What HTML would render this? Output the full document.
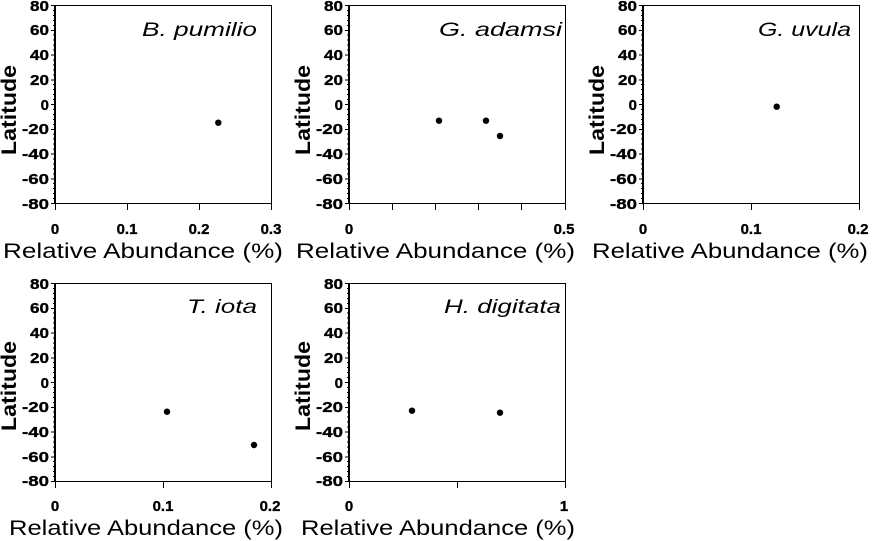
<!DOCTYPE html>
<html>
<head>
<meta charset="utf-8">
<style>
html,body{margin:0;padding:0;background:#fff;width:872px;height:541px;overflow:hidden}
svg{display:block}
text{font-family:"Liberation Sans",Arial,sans-serif;fill:#000}
.t{font-size:15px;font-weight:bold;stroke:#000;stroke-width:0.35px}
.x{font-size:15px;font-weight:bold;stroke:#000;stroke-width:0.35px}
.yl{font-size:21px;font-weight:bold}
.xl{font-size:21px}
.ti{font-size:19px;font-style:italic}
</style>
</head>
<body>
<svg width="872" height="541" viewBox="0 0 872 541" xmlns="http://www.w3.org/2000/svg">
<defs>
<path id="yt" fill="none" stroke="#000" stroke-width="1" shape-rendering="crispEdges" d="M-4 0.5H0 M-2 5.45H0 M-2 10.4H0 M-2 15.35H0 M-2 20.3H0 M-4 25.25H0 M-2 30.2H0 M-2 35.15H0 M-2 40.1H0 M-2 45.05H0 M-4 50H0 M-2 54.95H0 M-2 59.9H0 M-2 64.85H0 M-2 69.8H0 M-4 74.75H0 M-2 79.7H0 M-2 84.65H0 M-2 89.6H0 M-2 94.55H0 M-4 99.5H0 M-2 104.45H0 M-2 109.4H0 M-2 114.35H0 M-2 119.3H0 M-4 124.25H0 M-2 129.2H0 M-2 134.15H0 M-2 139.1H0 M-2 144.05H0 M-4 149H0 M-2 153.95H0 M-2 158.9H0 M-2 163.85H0 M-2 168.8H0 M-4 173.75H0 M-2 178.7H0 M-2 183.65H0 M-2 188.6H0 M-2 193.55H0 M-4 198.5H0"/>
<g id="frame" fill="none" stroke="#000" shape-rendering="crispEdges">
<path d="M0 0V199" stroke-width="2"/>
<path d="M0.5 0.5H216.5V205 M-4 198.5H216.5" stroke-width="1"/>
<use href="#yt"/>
</g>
</defs>

<g transform="translate(55,5)">
<use href="#frame"/>
<path d="M0.5 198V205 M72.5 198V205 M144.5 198V205" stroke="#000" fill="none" shape-rendering="crispEdges"/>
</g>
<g transform="translate(349,5)">
<use href="#frame"/>
<path d="M0.5 198V205 M43.5 198V205 M86.5 198V205 M129.5 198V205 M172.5 198V205" stroke="#000" fill="none" shape-rendering="crispEdges"/>
</g>
<g transform="translate(643,5)">
<use href="#frame"/>
<path d="M0.5 198V205 M108.5 198V205" stroke="#000" fill="none" shape-rendering="crispEdges"/>
</g>
<g transform="translate(55,283)">
<use href="#frame"/>
<path d="M0.5 198V205 M108.5 198V205" stroke="#000" fill="none" shape-rendering="crispEdges"/>
</g>
<g transform="translate(349,283)">
<use href="#frame"/>
<path d="M0.5 198V205 M108.5 198V205" stroke="#000" fill="none" shape-rendering="crispEdges"/>
</g>

<g>
<text class="t" x="30" y="11" textLength="19" lengthAdjust="spacingAndGlyphs">80</text>
<text class="t" x="30" y="35" textLength="19" lengthAdjust="spacingAndGlyphs">60</text>
<text class="t" x="30" y="60" textLength="19" lengthAdjust="spacingAndGlyphs">40</text>
<text class="t" x="30" y="85" textLength="19" lengthAdjust="spacingAndGlyphs">20</text>
<text class="t" x="49" y="110" text-anchor="end">0</text>
<text class="t" x="22" y="134" textLength="27" lengthAdjust="spacingAndGlyphs">-20</text>
<text class="t" x="22" y="159" textLength="27" lengthAdjust="spacingAndGlyphs">-40</text>
<text class="t" x="22" y="184" textLength="27" lengthAdjust="spacingAndGlyphs">-60</text>
<text class="t" x="22" y="209" textLength="27" lengthAdjust="spacingAndGlyphs">-80</text>
</g>
<g>
<text class="t" x="324" y="11" textLength="19" lengthAdjust="spacingAndGlyphs">80</text>
<text class="t" x="324" y="35" textLength="19" lengthAdjust="spacingAndGlyphs">60</text>
<text class="t" x="324" y="60" textLength="19" lengthAdjust="spacingAndGlyphs">40</text>
<text class="t" x="324" y="85" textLength="19" lengthAdjust="spacingAndGlyphs">20</text>
<text class="t" x="343" y="110" text-anchor="end">0</text>
<text class="t" x="316" y="134" textLength="27" lengthAdjust="spacingAndGlyphs">-20</text>
<text class="t" x="316" y="159" textLength="27" lengthAdjust="spacingAndGlyphs">-40</text>
<text class="t" x="316" y="184" textLength="27" lengthAdjust="spacingAndGlyphs">-60</text>
<text class="t" x="316" y="209" textLength="27" lengthAdjust="spacingAndGlyphs">-80</text>
</g>
<g>
<text class="t" x="618" y="11" textLength="19" lengthAdjust="spacingAndGlyphs">80</text>
<text class="t" x="618" y="35" textLength="19" lengthAdjust="spacingAndGlyphs">60</text>
<text class="t" x="618" y="60" textLength="19" lengthAdjust="spacingAndGlyphs">40</text>
<text class="t" x="618" y="85" textLength="19" lengthAdjust="spacingAndGlyphs">20</text>
<text class="t" x="637" y="110" text-anchor="end">0</text>
<text class="t" x="610" y="134" textLength="27" lengthAdjust="spacingAndGlyphs">-20</text>
<text class="t" x="610" y="159" textLength="27" lengthAdjust="spacingAndGlyphs">-40</text>
<text class="t" x="610" y="184" textLength="27" lengthAdjust="spacingAndGlyphs">-60</text>
<text class="t" x="610" y="209" textLength="27" lengthAdjust="spacingAndGlyphs">-80</text>
</g>
<g>
<text class="t" x="30" y="289" textLength="19" lengthAdjust="spacingAndGlyphs">80</text>
<text class="t" x="30" y="313" textLength="19" lengthAdjust="spacingAndGlyphs">60</text>
<text class="t" x="30" y="338" textLength="19" lengthAdjust="spacingAndGlyphs">40</text>
<text class="t" x="30" y="363" textLength="19" lengthAdjust="spacingAndGlyphs">20</text>
<text class="t" x="49" y="388" text-anchor="end">0</text>
<text class="t" x="22" y="412" textLength="27" lengthAdjust="spacingAndGlyphs">-20</text>
<text class="t" x="22" y="437" textLength="27" lengthAdjust="spacingAndGlyphs">-40</text>
<text class="t" x="22" y="462" textLength="27" lengthAdjust="spacingAndGlyphs">-60</text>
<text class="t" x="22" y="486" textLength="27" lengthAdjust="spacingAndGlyphs">-80</text>
</g>
<g>
<text class="t" x="324" y="289" textLength="19" lengthAdjust="spacingAndGlyphs">80</text>
<text class="t" x="324" y="313" textLength="19" lengthAdjust="spacingAndGlyphs">60</text>
<text class="t" x="324" y="338" textLength="19" lengthAdjust="spacingAndGlyphs">40</text>
<text class="t" x="324" y="363" textLength="19" lengthAdjust="spacingAndGlyphs">20</text>
<text class="t" x="343" y="388" text-anchor="end">0</text>
<text class="t" x="316" y="412" textLength="27" lengthAdjust="spacingAndGlyphs">-20</text>
<text class="t" x="316" y="437" textLength="27" lengthAdjust="spacingAndGlyphs">-40</text>
<text class="t" x="316" y="462" textLength="27" lengthAdjust="spacingAndGlyphs">-60</text>
<text class="t" x="316" y="486" textLength="27" lengthAdjust="spacingAndGlyphs">-80</text>
</g>

<text class="x" x="55" y="234" text-anchor="middle">0</text>
<text class="x" x="127" y="234" text-anchor="middle">0.1</text>
<text class="x" x="199" y="234" text-anchor="middle">0.2</text>
<text class="x" x="271" y="234" text-anchor="middle">0.3</text>

<text class="x" x="349" y="234" text-anchor="middle">0</text>
<text class="x" x="564" y="234" text-anchor="middle">0.5</text>

<text class="x" x="643" y="234" text-anchor="middle">0</text>
<text class="x" x="751" y="234" text-anchor="middle">0.1</text>
<text class="x" x="858" y="234" text-anchor="middle">0.2</text>

<text class="x" x="55" y="511" text-anchor="middle">0</text>
<text class="x" x="163" y="511" text-anchor="middle">0.1</text>
<text class="x" x="270" y="511" text-anchor="middle">0.2</text>

<text class="x" x="349" y="511" text-anchor="middle">0</text>
<text class="x" x="564" y="511" text-anchor="middle">1</text>

<text class="xl" x="3" y="258" textLength="280" lengthAdjust="spacingAndGlyphs">Relative Abundance (%)</text>
<text class="xl" x="296" y="258" textLength="279" lengthAdjust="spacingAndGlyphs">Relative Abundance (%)</text>
<text class="xl" x="592" y="258" textLength="276" lengthAdjust="spacingAndGlyphs">Relative Abundance (%)</text>
<text class="xl" x="9" y="535" textLength="274" lengthAdjust="spacingAndGlyphs">Relative Abundance (%)</text>
<text class="xl" x="301" y="535" textLength="274" lengthAdjust="spacingAndGlyphs">Relative Abundance (%)</text>

<text class="yl" transform="translate(16,110) rotate(-90)" x="-45" y="0" textLength="90" lengthAdjust="spacingAndGlyphs">Latitude</text>
<text class="yl" transform="translate(310,110) rotate(-90)" x="-45" y="0" textLength="90" lengthAdjust="spacingAndGlyphs">Latitude</text>
<text class="yl" transform="translate(604,110) rotate(-90)" x="-45" y="0" textLength="90" lengthAdjust="spacingAndGlyphs">Latitude</text>
<text class="yl" transform="translate(16,386) rotate(-90)" x="-45" y="0" textLength="90" lengthAdjust="spacingAndGlyphs">Latitude</text>
<text class="yl" transform="translate(310,386) rotate(-90)" x="-45" y="0" textLength="90" lengthAdjust="spacingAndGlyphs">Latitude</text>

<text class="ti" x="142" y="36" textLength="115" lengthAdjust="spacingAndGlyphs">B. pumilio</text>
<text class="ti" x="439" y="36" textLength="123" lengthAdjust="spacingAndGlyphs">G. adamsi</text>
<text class="ti" x="758" y="36" textLength="93" lengthAdjust="spacingAndGlyphs">G. uvula</text>
<text class="ti" x="187" y="313" textLength="70" lengthAdjust="spacingAndGlyphs">T. iota</text>
<text class="ti" x="444" y="313" textLength="117" lengthAdjust="spacingAndGlyphs">H. digitata</text>

<g fill="#000">
<circle cx="218.3" cy="122.7" r="3.2"/>
<circle cx="439" cy="120.7" r="3.2"/>
<circle cx="486" cy="120.7" r="3.2"/>
<circle cx="500" cy="136" r="3.2"/>
<circle cx="776.7" cy="106.7" r="3.2"/>
<circle cx="167" cy="411.7" r="3.2"/>
<circle cx="254" cy="445" r="3.2"/>
<circle cx="412" cy="410.7" r="3.2"/>
<circle cx="500" cy="412.7" r="3.2"/>
</g>
</svg>
</body>
</html>
